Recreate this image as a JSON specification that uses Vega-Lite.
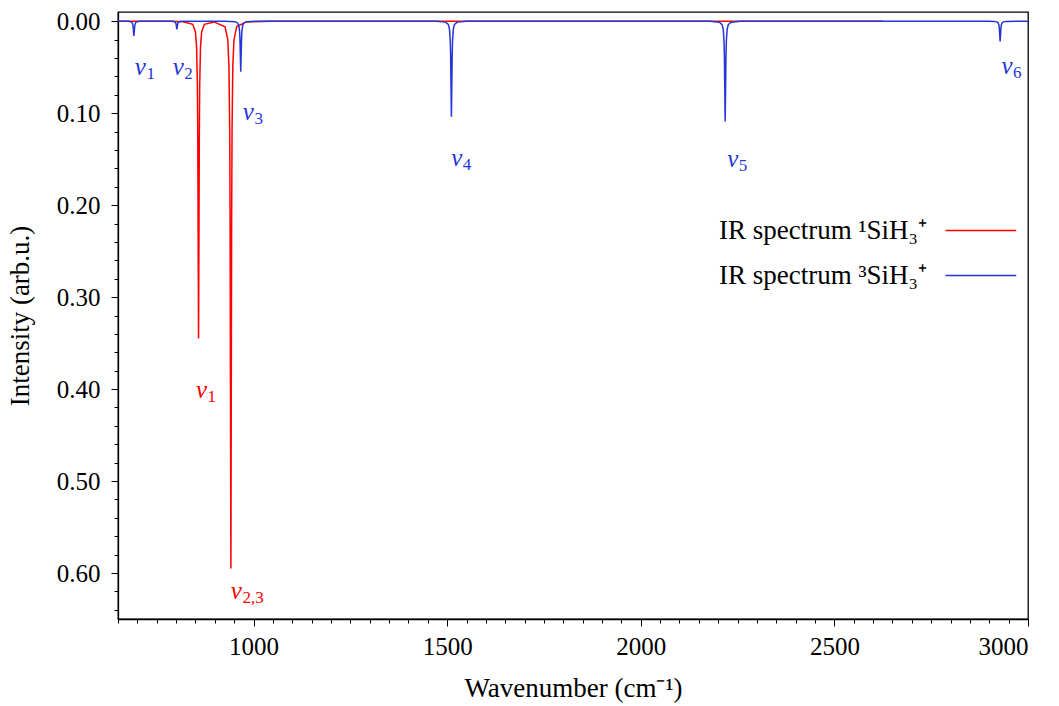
{
  "$schema": "https://vega.github.io/schema/vega-lite/v6.json",
  "width": 910,
  "height": 607,
  "autosize": {"type": "none"},
  "padding": {"left": 118, "top": 12, "right": 31, "bottom": 87},
  "background": "white",
  "config": {
    "view": {"stroke": "black", "strokeWidth": 1.3},
    "font": "Liberation Serif",
    "axis": {
      "domainColor": "black", "domainWidth": 1.3, "tickColor": "black", "tickWidth": 1,
      "labelColor": "black", "labelFont": "Liberation Serif", "labelFontSize": 25,
      "titleFont": "Liberation Serif", "titleFontSize": 27, "titleFontWeight": "normal", "titleColor": "black",
      "grid": false
    },
    "legend": {
      "orient": "none", "legendX": 849.4, "legendY": 205,
      "labelAlign": "right", "labelOffset": -67.4,
      "symbolSize": 200, "symbolStrokeWidth": 1.5,
      "labelFont": "Liberation Serif", "labelFontSize": 27, "labelColor": "black", "labelLimit": 0,
      "rowPadding": 17
    }
  },
  "datasets": {
    "spec": [
      {"s":"1","wn":650,"I":0},{"s":"1","wn":790,"I":0},{"s":"1","wn":818,"I":0.0005},{"s":"1","wn":843,"I":0.0034},
      {"s":"1","wn":850,"I":0.0117},{"s":"1","wn":853,"I":0.0285},{"s":"1","wn":855,"I":0.069},{"s":"1","wn":856,"I":0.1242},
      {"s":"1","wn":857,"I":0.2387},{"s":"1","wn":858,"I":0.345},{"s":"1","wn":859,"I":0.2387},{"s":"1","wn":860,"I":0.1242},
      {"s":"1","wn":861,"I":0.069},{"s":"1","wn":863,"I":0.0285},{"s":"1","wn":866,"I":0.0117},{"s":"1","wn":873,"I":0.0034},
      {"s":"1","wn":898,"I":0.0008},{"s":"1","wn":926.5,"I":0.0062},{"s":"1","wn":933.5,"I":0.0202},{"s":"1","wn":936.5,"I":0.0491},
      {"s":"1","wn":938.5,"I":0.119},{"s":"1","wn":939.5,"I":0.2142},{"s":"1","wn":940.5,"I":0.4117},{"s":"1","wn":941.5,"I":0.595},
      {"s":"1","wn":942.5,"I":0.4117},{"s":"1","wn":943.5,"I":0.2142},{"s":"1","wn":944.5,"I":0.119},{"s":"1","wn":946.5,"I":0.0491},
      {"s":"1","wn":949.5,"I":0.0202},{"s":"1","wn":956.5,"I":0.0059},{"s":"1","wn":981.5,"I":0.0008},{"s":"1","wn":1040,"I":0},
      {"s":"1","wn":2625,"I":0},
      {"s":"3","wn":650,"I":0},{"s":"3","wn":676,"I":0},{"s":"3","wn":683,"I":0.0005},{"s":"3","wn":686,"I":0.0013},
      {"s":"3","wn":688,"I":0.0032},{"s":"3","wn":689,"I":0.0058},{"s":"3","wn":690,"I":0.0111},{"s":"3","wn":691,"I":0.016},
      {"s":"3","wn":692,"I":0.0111},{"s":"3","wn":693,"I":0.0058},{"s":"3","wn":694,"I":0.0032},{"s":"3","wn":696,"I":0.0013},
      {"s":"3","wn":699,"I":0.0005},{"s":"3","wn":706,"I":0},
      {"s":"3","wn":787,"I":0},{"s":"3","wn":794,"I":0.0003},{"s":"3","wn":797,"I":0.0007},{"s":"3","wn":799,"I":0.0018},
      {"s":"3","wn":800,"I":0.0032},{"s":"3","wn":801,"I":0.0062},{"s":"3","wn":802,"I":0.009},{"s":"3","wn":803,"I":0.0062},
      {"s":"3","wn":804,"I":0.0032},{"s":"3","wn":805,"I":0.0018},{"s":"3","wn":807,"I":0.0007},{"s":"3","wn":810,"I":0.0003},
      {"s":"3","wn":817,"I":0},
      {"s":"3","wn":927,"I":0},{"s":"3","wn":952,"I":0.0005},{"s":"3","wn":959,"I":0.0019},{"s":"3","wn":962,"I":0.0045},
      {"s":"3","wn":964,"I":0.011},{"s":"3","wn":965,"I":0.0198},{"s":"3","wn":966,"I":0.0381},{"s":"3","wn":967,"I":0.055},
      {"s":"3","wn":968,"I":0.0381},{"s":"3","wn":969,"I":0.0198},{"s":"3","wn":970,"I":0.011},{"s":"3","wn":972,"I":0.0045},
      {"s":"3","wn":975,"I":0.0019},{"s":"3","wn":982,"I":0.0005},{"s":"3","wn":1007,"I":0},
      {"s":"3","wn":1471,"I":0},{"s":"3","wn":1496,"I":0.001},{"s":"3","wn":1503,"I":0.0035},{"s":"3","wn":1506,"I":0.0086},
      {"s":"3","wn":1508,"I":0.0208},{"s":"3","wn":1509,"I":0.0374},{"s":"3","wn":1510,"I":0.072},{"s":"3","wn":1511,"I":0.104},
      {"s":"3","wn":1512,"I":0.072},{"s":"3","wn":1513,"I":0.0374},{"s":"3","wn":1514,"I":0.0208},{"s":"3","wn":1516,"I":0.0086},
      {"s":"3","wn":1519,"I":0.0035},{"s":"3","wn":1526,"I":0.001},{"s":"3","wn":1551,"I":0},
      {"s":"3","wn":2178,"I":0},{"s":"3","wn":2203,"I":0.0011},{"s":"3","wn":2210,"I":0.0037},{"s":"3","wn":2213,"I":0.009},
      {"s":"3","wn":2215,"I":0.0218},{"s":"3","wn":2216,"I":0.0392},{"s":"3","wn":2217,"I":0.0754},{"s":"3","wn":2218,"I":0.109},
      {"s":"3","wn":2219,"I":0.0754},{"s":"3","wn":2220,"I":0.0392},{"s":"3","wn":2221,"I":0.0218},{"s":"3","wn":2223,"I":0.009},
      {"s":"3","wn":2226,"I":0.0037},{"s":"3","wn":2233,"I":0.0011},{"s":"3","wn":2258,"I":0},
      {"s":"3","wn":2898,"I":0},{"s":"3","wn":2913,"I":0.0002},{"s":"3","wn":2920,"I":0.0007},{"s":"3","wn":2923,"I":0.0018},
      {"s":"3","wn":2925,"I":0.0044},{"s":"3","wn":2926,"I":0.0079},{"s":"3","wn":2927,"I":0.0152},{"s":"3","wn":2928,"I":0.022},
      {"s":"3","wn":2929,"I":0.0152},{"s":"3","wn":2930,"I":0.0079},{"s":"3","wn":2931,"I":0.0044},{"s":"3","wn":2933,"I":0.0018},
      {"s":"3","wn":2936,"I":0.0007},{"s":"3","wn":2943,"I":0.0002},{"s":"3","wn":2968,"I":0},{"s":"3","wn":3000,"I":0}
    ],
    "nu": [
      {"s":"3","x":722,"y":0.0588,"sub":"1"},
      {"s":"3","x":820,"y":0.0588,"sub":"2"},
      {"s":"3","x":1001,"y":0.1078,"sub":"3"},
      {"s":"3","x":1539,"y":0.1579,"sub":"4"},
      {"s":"3","x":2252,"y":0.159,"sub":"5"},
      {"s":"3","x":2960,"y":0.0577,"sub":"6"},
      {"s":"1","x":880,"y":0.4094,"sub":"1"},
      {"s":"1","x":970,"y":0.6283,"sub":"2,3"}
    ]
  },
  "encoding": {
    "x": {
      "field": "wn", "type": "quantitative",
      "scale": {"domain": [650, 3000], "nice": false, "zero": false},
      "axis": {
        "title": "Wavenumber (cm⁻¹)",
        "values": [650,700,750,800,850,900,950,1000,1050,1100,1150,1200,1250,1300,1350,1400,1450,1500,1550,1600,1650,1700,1750,1800,1850,1900,1950,2000,2050,2100,2150,2200,2250,2300,2350,2400,2450,2500,2550,2600,2650,2700,2750,2800,2850,2900,2950,3000],
        "labelExpr": "datum.value % 500 == 0 ? format(datum.value, 'd') : ''",
        "tickSize": {"condition": {"test": "datum.value % 500 == 0", "value": 7}, "value": 4},
        "labelFont": "Liberation Serif",
        "titleFont": "Liberation Serif",
        "labelPadding": 8,
        "titlePadding": 16
      }
    },
    "y": {
      "field": "I", "type": "quantitative",
      "scale": {"domain": [-0.01, 0.65], "reverse": true, "nice": false, "zero": false},
      "axis": {
        "title": "Intensity (arb.u.)",
        "values": [0,0.02,0.04,0.06,0.08,0.1,0.12,0.14,0.16,0.18,0.2,0.22,0.24,0.26,0.28,0.3,0.32,0.34,0.36,0.38,0.4,0.42,0.44,0.46,0.48,0.5,0.52,0.54,0.56,0.58,0.6,0.62,0.64],
        "labelExpr": "abs(datum.value*10 - round(datum.value*10)) < 1e-6 ? format(datum.value, '.2f') : ''",
        "tickSize": {"condition": {"test": "abs(datum.value*10 - round(datum.value*10)) < 1e-6", "value": 7}, "value": 4},
        "labelFont": "Liberation Serif",
        "titleFont": "Liberation Serif",
        "labelPadding": 11,
        "titlePadding": 22
      }
    }
  },
  "layer": [
    {
      "data": {"name": "spec"},
      "transform": [{"filter": "datum.s == '1'"}],
      "mark": {"type": "line", "strokeWidth": 1.5, "clip": true},
      "encoding": {
        "color": {"field": "s", "type": "nominal", "scale": {"domain": ["1", "3"], "range": ["#ff0000", "#2536d8"]},
          "legend": {"title": null, "symbolType": "M-5,0H5", "labelExpr": "datum.value == '1' ? 'IR spectrum ¹SiH₃⁺' : 'IR spectrum ³SiH₃⁺'"}}
      }
    },
    {
      "data": {"name": "spec"},
      "transform": [{"filter": "datum.s == '3'"}],
      "mark": {"type": "line", "strokeWidth": 1.5, "clip": true},
      "encoding": {
        "color": {"field": "s", "type": "nominal", "scale": {"domain": ["1", "3"], "range": ["#ff0000", "#2536d8"]},
          "legend": {"title": null, "symbolType": "M-5,0H5", "labelExpr": "datum.value == '1' ? 'IR spectrum ¹SiH₃⁺' : 'IR spectrum ³SiH₃⁺'"}}
      }
    },
    {
      "data": {"name": "nu"},
      "transform": [{"filter": "datum.s == '3'"}],
      "mark": {"type": "text", "align": "right", "baseline": "alphabetic", "fontSize": 25, "fontStyle": "italic", "font": "Liberation Serif", "color": "#2536d8"},
      "encoding": {"x": {"field": "x", "type": "quantitative"}, "y": {"field": "y", "type": "quantitative"}, "text": {"value": "ν"}}
    },
    {
      "data": {"name": "nu"},
      "transform": [{"filter": "datum.s == '3'"}],
      "mark": {"type": "text", "align": "left", "baseline": "alphabetic", "fontSize": 17, "dy": 4, "dx": 0.5, "font": "Liberation Serif", "color": "#2536d8"},
      "encoding": {"x": {"field": "x", "type": "quantitative"}, "y": {"field": "y", "type": "quantitative"}, "text": {"field": "sub"}}
    },
    {
      "data": {"name": "nu"},
      "transform": [{"filter": "datum.s == '1'"}],
      "mark": {"type": "text", "align": "right", "baseline": "alphabetic", "fontSize": 25, "fontStyle": "italic", "font": "Liberation Serif", "color": "#ff0000"},
      "encoding": {"x": {"field": "x", "type": "quantitative"}, "y": {"field": "y", "type": "quantitative"}, "text": {"value": "ν"}}
    },
    {
      "data": {"name": "nu"},
      "transform": [{"filter": "datum.s == '1'"}],
      "mark": {"type": "text", "align": "left", "baseline": "alphabetic", "fontSize": 17, "dy": 4, "dx": 0.5, "font": "Liberation Serif", "color": "#ff0000"},
      "encoding": {"x": {"field": "x", "type": "quantitative"}, "y": {"field": "y", "type": "quantitative"}, "text": {"field": "sub"}}
    }
  ]
}
